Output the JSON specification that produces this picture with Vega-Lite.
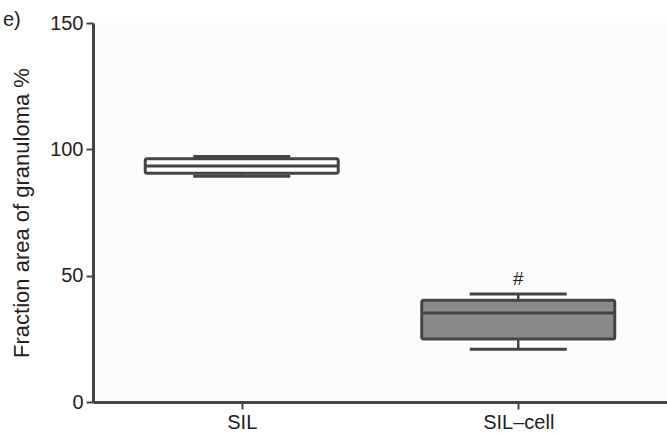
{
  "$schema": "https://vega.github.io/schema/vega-lite/v6.json",
  "autosize": "none",
  "width": 574,
  "height": 379,
  "padding": {"left": 93, "top": 23, "right": 0, "bottom": 32},
  "background": "white",
  "config": {
    "view": {"stroke": null, "fill": "#fcfcfc"},
    "font": "Liberation Sans",
    "axis": {"grid": false, "domainColor": "#444444", "domainWidth": 3, "tickColor": "#444444", "tickWidth": 2, "tickSize": 7, "labelFont": "Liberation Sans", "labelFontSize": 20, "labelColor": "#222222", "titleFont": "Liberation Sans", "titleFontSize": 22, "titleFontWeight": "normal", "titleColor": "#222222"}
  },
  "title": {"text": "e)", "anchor": "start", "frame": "group", "orient": "top", "dx": -90, "dy": 17, "fontSize": 20, "font": "Liberation Sans", "fontWeight": "normal", "color": "#222222", "offset": 0},
  "data": {"values": [
    {"group": "SIL", "lo": 89.3, "q1": 90.5, "median": 93.4, "q3": 96.3, "hi": 97.2, "fill": "#ffffff", "label": ""},
    {"group": "SIL\u2013cell", "lo": 20.9, "q1": 24.9, "median": 35.2, "q3": 40.3, "hi": 42.7, "fill": "#8a8a8a", "label": "#"}
  ]},
  "encoding": {
    "x": {"field": "group", "type": "nominal", "sort": null, "scale": {"type": "point", "padding": 0.538}, "axis": {"title": null, "labelAngle": 0, "labelPadding": 3}}
  },
  "layer": [
    {
      "mark": {"type": "rule", "stroke": "#444444", "strokeWidth": 2.5},
      "encoding": {
        "y": {"field": "lo", "type": "quantitative", "scale": {"domain": [0, 150], "nice": false}, "axis": {"values": [0, 50, 100, 150], "title": "Fraction area of granuloma %", "titlePadding": 16, "labelPadding": 3}},
        "y2": {"field": "hi"}
      }
    },
    {
      "mark": {"type": "bar", "width": 193, "stroke": "#444444", "strokeWidth": 3, "cornerRadius": 2},
      "encoding": {
        "y": {"field": "q1", "type": "quantitative"},
        "y2": {"field": "q3"},
        "fill": {"field": "fill", "type": "nominal", "scale": null}
      }
    },
    {
      "mark": {"type": "tick", "size": 193, "thickness": 3, "color": "#444444", "opacity": 1},
      "encoding": {"y": {"field": "median", "type": "quantitative"}}
    },
    {
      "mark": {"type": "tick", "size": 97, "thickness": 3, "color": "#444444", "opacity": 1},
      "encoding": {"y": {"field": "lo", "type": "quantitative"}}
    },
    {
      "mark": {"type": "tick", "size": 97, "thickness": 3, "color": "#444444", "opacity": 1},
      "encoding": {"y": {"field": "hi", "type": "quantitative"}}
    },
    {
      "mark": {"type": "text", "fontSize": 19, "color": "#222222", "baseline": "bottom", "dy": -5},
      "encoding": {"y": {"field": "hi", "type": "quantitative"}, "text": {"field": "label"}}
    }
  ]
}
